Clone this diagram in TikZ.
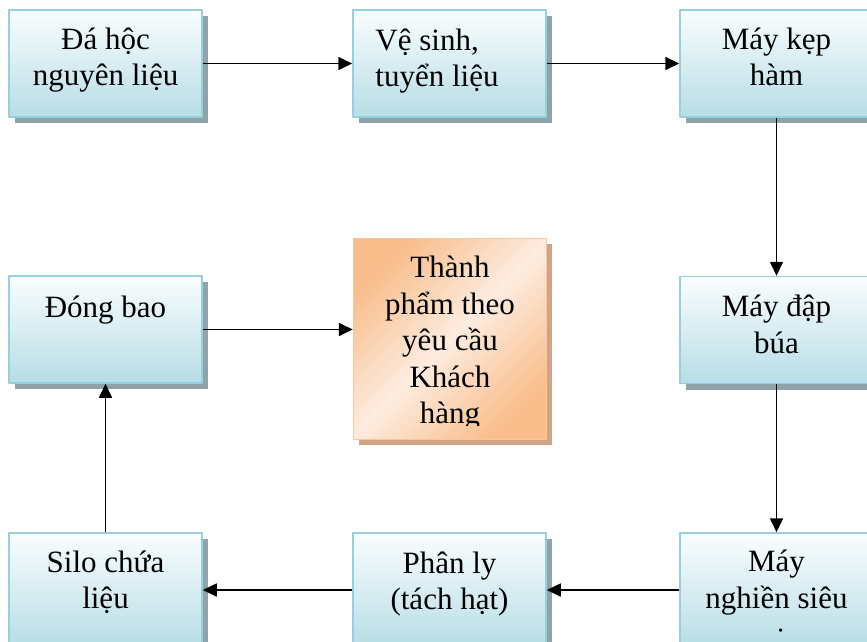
\documentclass[tikz,border=0pt]{standalone}
\usepackage{fontspec}
\setmainfont{Liberation Serif}
\newfontfamily\vnserif{Liberation Serif}
\usetikzlibrary{arrows.meta,shadows}
\definecolor{boxtop}{RGB}{250,253,254}
\definecolor{boxbot}{RGB}{183,221,230}
\definecolor{boxline}{RGB}{150,207,221}
\definecolor{boxshadow}{RGB}{142,164,170}
\definecolor{orgdark}{RGB}{249,190,140}
\definecolor{orglight}{RGB}{253,236,224}
\definecolor{orgline}{RGB}{250,198,154}
\definecolor{orgshadow}{RGB}{208,165,135}
\tikzset{
  stage/.style={rectangle, draw=boxline, line width=1.5pt,
    top color=boxtop, bottom color=boxbot,
    minimum width=193pt, minimum height=107pt,
    drop shadow={shadow xshift=6pt, shadow yshift=-6pt, fill=boxshadow, opacity=1}},
  result/.style={rectangle, draw=orgline, line width=1.5pt,
    left color=orgdark, right color=orgdark, middle color=orglight, shading angle=45,
    minimum width=193pt, minimum height=201pt,
    drop shadow={shadow xshift=5pt, shadow yshift=-5pt, fill=orgshadow, opacity=1}},
  caption/.style={anchor=base, inner sep=0pt, font=\vnserif\fontsize{31}{36.5}\selectfont},
  flow/.style={line width=1.7pt, -{Triangle[length=14pt,width=13pt]}}
}
\begin{document}
\begin{tikzpicture}[x=1pt, y=-1pt, line join=round]
  \path[use as bounding box, clip] (0,0) rectangle (867,642);

  % boxes
  \node[stage] (dahoc) at (105.5,63.5) {};
  \node[stage] (vesinh) at (449.5,63.5) {};
  \node[stage] (kepham) at (776.5,63.5) {};
  \node[stage] (dongbao) at (105.5,329.5) {};
  \node[stage] (dapbua) at (776.5,330) {};
  \node[stage, minimum height=114pt] (silo) at (105.5,590) {};
  \node[stage, minimum height=114pt] (phanly) at (449.5,590) {};
  \node[stage, minimum height=114pt] (nghien) at (776.5,590) {};
  \node[result] (thanhpham) at (450,339) {};

  % texts
  \node[caption] (dahoc-t) at ([yshift=-40pt]dahoc.north) {\parbox[t]{180pt}{\centering Đá hộc\\nguyên liệu}};
  \node[caption, anchor=base west] (vesinh-t) at ([xshift=23pt,yshift=-41pt]vesinh.north west) {\parbox[t]{165pt}{\raggedright Vệ sinh,\\tuyển liệu}};
  \node[caption] (kepham-t) at ([yshift=-40pt]kepham.north) {\parbox[t]{180pt}{\centering Máy kẹp\\hàm}};
  \node[caption] (dongbao-t) at ([yshift=-42pt]dongbao.north) {\parbox[t]{180pt}{\centering Đóng bao}};
  \node[caption] (dapbua-t) at ([yshift=-41pt]dapbua.north) {\parbox[t]{180pt}{\centering Máy đập\\búa}};
  \node[caption] (silo-t) at ([yshift=-40pt]silo.north) {\parbox[t]{180pt}{\centering Silo chứa\\liệu}};
  \node[caption] (phanly-t) at ([yshift=-41pt]phanly.north) {\parbox[t]{180pt}{\centering Phân ly\\(tách hạt)}};
  \begin{scope}
    \clip (681,534) rectangle (867,631);
    \node[caption, font=\vnserif\fontsize{31}{37}\selectfont] (nghien-t) at ([yshift=-39pt]nghien.north)
      {\parbox[t]{180pt}{\centering Máy\\nghiền siêu\\[4pt]mịn}};
  \end{scope}
  \begin{scope}
    \clip (354,239) rectangle (546,425);
    \node[caption, font=\vnserif\fontsize{31}{36.5}\selectfont] (thanhpham-t) at ([yshift=-40pt]thanhpham.north)
      {\parbox[t]{180pt}{\centering Thành\\phẩm theo\\yêu cầu\\Khách\\hàng}};
  \end{scope}

  % arrows
  \draw[flow] (dahoc) -- (vesinh);
  \draw[flow] (vesinh) -- (kepham);
  \draw[flow] (kepham) -- (dapbua);
  \draw[flow] (dapbua) -- (nghien);
  \draw[flow] (nghien) -- (phanly);
  \draw[flow] (phanly) -- (silo);
  \draw[flow] (silo) -- (dongbao);
  \draw[flow] (dongbao.east) -- (dongbao.east -| thanhpham.west);
\end{tikzpicture}
\end{document}
